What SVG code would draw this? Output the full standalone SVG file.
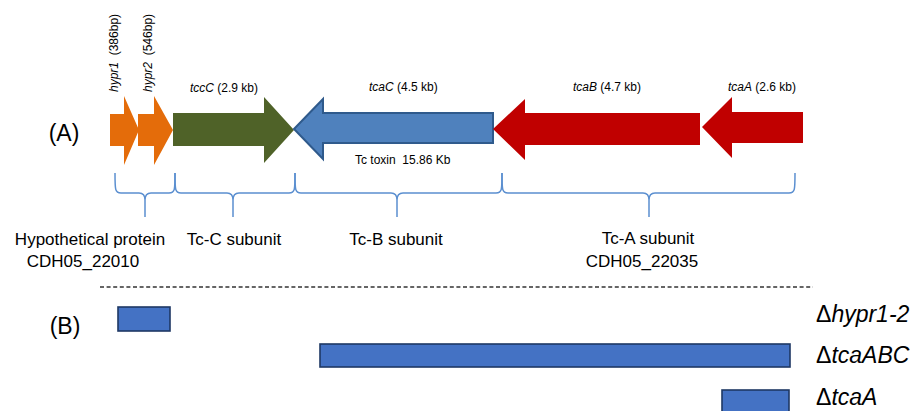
<svg xmlns="http://www.w3.org/2000/svg" width="919" height="411" viewBox="0 0 919 411">
<style>
text{font-family:"Liberation Sans",Arial,sans-serif;fill:#000}
.g{font-size:12px}
.i{font-style:italic}
.lab{font-size:17px}
.big{font-size:23px}
.del{font-size:23px;font-style:italic}
.up{font-style:normal}
.brace{fill:none;stroke:#5b8fd0;stroke-width:1.5}
.box{fill:#4472c4;stroke:#1f3864;stroke-width:1.6}
</style>
<rect width="919" height="411" fill="#fff"/>
<text class="big" x="64" y="141" text-anchor="middle">(A)</text>
<text class="big" x="65" y="334" text-anchor="middle">(B)</text>

<g id="hypr1">
<polygon points="110,114 124,114 124,96 139,130 124,165 124,146 110,146" fill="#e46c0a"/>
<text class="g" transform="translate(118,92) rotate(-90)" style="white-space:pre"><tspan class="i">hypr1</tspan>  (386bp)</text>
</g>
<g id="hypr2">
<polygon points="138,114 154,114 154,96 173,130 154,165 154,146 138,146" fill="#e46c0a"/>
<text class="g" transform="translate(152,92) rotate(-90)" style="white-space:pre"><tspan class="i">hypr2</tspan>  (546bp)</text>
</g>
<g id="tccC">
<polygon points="173,113 264,113 264,97 294,130 264,163 264,146 173,146" fill="#4f6228"/>
<text class="g" x="190" y="92"><tspan class="i">tccC</tspan> (2.9 kb)</text>
</g>
<g id="tcaC">
<polygon points="294,129 323,99 323,113 493,113 493,143 323,143 323,159" fill="#4f81bd" stroke="#2f5a8c" stroke-width="2" stroke-linejoin="miter"/>
<text class="g" x="369" y="91"><tspan class="i">tcaC</tspan> (4.5 kb)</text>
<text class="g" x="355" y="164" style="white-space:pre">Tc toxin  15.86 Kb</text>
</g>
<g id="tcaB">
<polygon points="493,129 525,99 525,113 700,113 700,145 525,145 525,160" fill="#c00000"/>
<text class="g" x="573" y="91"><tspan class="i">tcaB</tspan> (4.7 kb)</text>
</g>
<g id="tcaA">
<polygon points="702,127 732,97 732,112 803,112 803,143 732,143 732,158" fill="#c00000"/>
<text class="g" x="728" y="91"><tspan class="i">tcaA</tspan> (2.6 kb)</text>
</g>

<g id="connectors">
<path class="brace" d="M115 173 C115 190 115 193 121 193 L139 193 C144 193 145 196 145 200 L145 217 M145 200 C145 196 146 193 151 193 L169 193 C175 193 175 190 175 173"/>
<path class="brace" d="M175 173 C175 190 175 193 181 193 L227 193 C232 193 233 196 233 200 L233 217 M233 200 C233 196 234 193 239 193 L289 193 C295 193 295 190 295 173"/>
<path class="brace" d="M295 173 C295 190 295 193 301 193 L391 193 C396 193 397 196 397 200 L397 217 M397 200 C397 196 398 193 403 193 L496 193 C502 193 502 190 502 173"/>
<path class="brace" d="M502 173 C502 190 502 193 508 193 L643 193 C648 193 649 196 649 200 L649 217 M649 200 C649 196 650 193 655 193 L789 193 C795 193 795 190 795 173"/>
<line x1="100" y1="287" x2="813" y2="287" stroke="#333" stroke-width="1.3" stroke-dasharray="4 2.6"/>
</g>

<g id="hyp-label">
<text class="lab" x="90" y="245" text-anchor="middle">Hypothetical protein</text>
<text class="lab" x="83" y="267" text-anchor="middle">CDH05_22010</text>
</g>
<g id="tcC-label"><text class="lab" x="234" y="245" text-anchor="middle">Tc-C subunit</text></g>
<g id="tcB-label"><text class="lab" x="396" y="245" text-anchor="middle">Tc-B subunit</text></g>
<g id="tcA-label">
<text class="lab" x="648" y="244" text-anchor="middle">Tc-A subunit</text>
<text class="lab" x="642" y="267" text-anchor="middle">CDH05_22035</text>
</g>

<g id="del-hypr">
<rect class="box" x="118" y="307" width="52" height="24"/>
<text class="del" x="816" y="322"><tspan class="up">Δ</tspan>hypr1-2</text>
</g>
<g id="del-tcaABC">
<rect class="box" x="320" y="344" width="470" height="23"/>
<text class="del" x="816" y="363"><tspan class="up">Δ</tspan>tcaABC</text>
</g>
<g id="del-tcaA">
<rect class="box" x="722" y="390" width="67" height="30"/>
<text class="del" x="816" y="405"><tspan class="up">Δ</tspan>tcaA</text>
</g>
</svg>
